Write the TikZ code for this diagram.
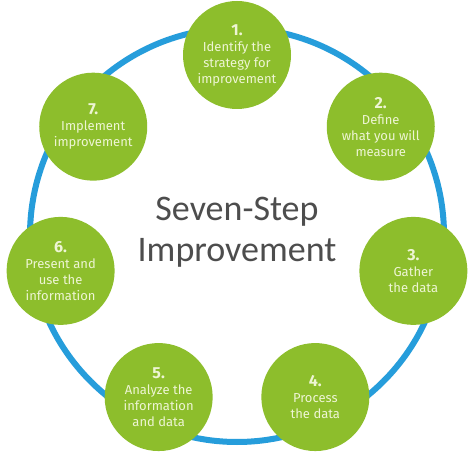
\documentclass[tikz,border=0pt]{standalone}
\usepackage{fontspec}
\newfontfamily\stepfont{Fira Sans}
\newfontfamily\titlefont{Carlito}
\definecolor{ringBlue}{RGB}{38, 157, 219}
\definecolor{stepGreen}{RGB}{141, 190, 44}
\definecolor{stepText}{RGB}{238, 245, 212}
\definecolor{titleGray}{RGB}{77, 77, 77}
\usetikzlibrary{positioning, calc}

\begin{document}
\begin{tikzpicture}[
    x=1pt, y=1pt,
    stepnode/.style={circle, fill=stepGreen, minimum size=108pt, inner sep=0pt,
                     align=center, text=stepText,
                     font=\stepfont\fontsize{13}{16}\selectfont},
  ]
    \useasboundingbox[fill=white] (0,0) rectangle (474,453);
    \coordinate (C) at (237,218);

    % ring behind the steps
    \draw[ringBlue, line width=6pt] (C) circle[radius=207];

    \node[font=\titlefont\fontsize{36}{41}\selectfont, text=titleGray, align=center]
      (title) at ($(C)+(0,3)$) {Seven-Step\\Improvement};

    \node[stepnode] (S1) at ($(C)+(90:180)$) {
      {\bfseries\fontsize{16}{18}\selectfont 1.}\\
      Identify the\\
      strategy for\\
      improvement
    };
    \node[stepnode] (S2) at ($(C)+(37:180)$) {
      {\bfseries\fontsize{16}{18}\selectfont 2.}\\
      Define\\
      what you will\\
      measure
    };
    \node[stepnode] (S3) at ($(C)+(-11.5:180)$) {
      {\bfseries\fontsize{16}{18}\selectfont 3.}\\
      Gather\\
      the data
    };
    \node[stepnode] (S4) at ($(C)+(-64.2:180)$) {
      {\bfseries\fontsize{16}{18}\selectfont 4.}\\
      Process\\
      the data
    };
    \node[stepnode] (S5) at ($(C)+(-115.8:180)$) {
      {\bfseries\fontsize{16}{18}\selectfont 5.}\\
      Analyze the\\
      information\\
      and data
    };
    \node[stepnode] (S6) at ($(C)+(-168.5:180)$) {
      {\bfseries\fontsize{16}{18}\selectfont 6.}\\
      Present and\\
      use the\\
      information
    };
    \node[stepnode] (S7) at ($(C)+(143:180)$) {
      {\bfseries\fontsize{16}{18}\selectfont 7.}\\
      Implement\\
      improvement
    };
  \end{tikzpicture}
\end{document}
